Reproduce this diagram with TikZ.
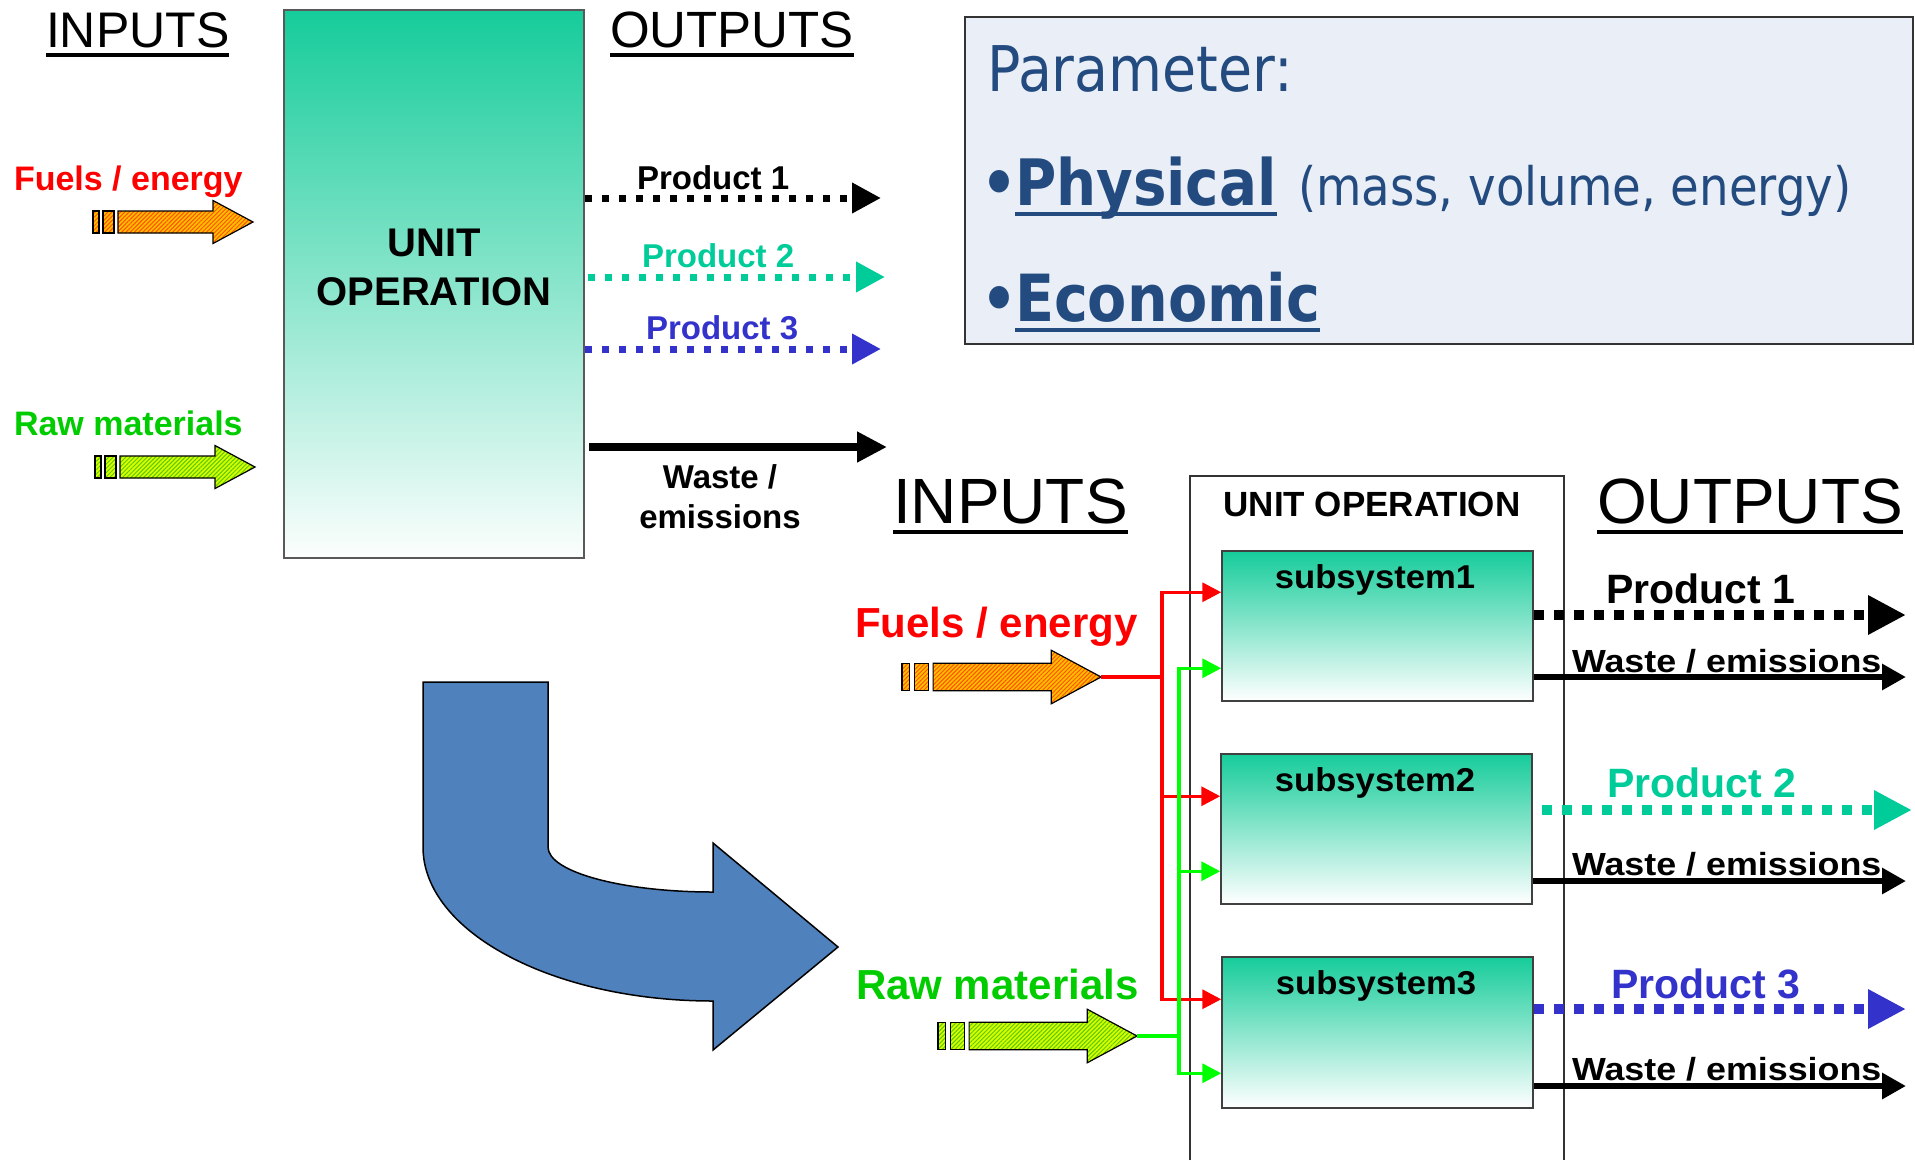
\documentclass[tikz,border=0pt]{standalone}
\usepackage{fontspec}
\setmainfont{Liberation Sans}
\newfontfamily\paramfont[FakeStretch=0.88]{DejaVu Sans}
\newfontfamily\widebold[FakeStretch=1.12]{Liberation Sans}
\newfontfamily\subfont[FakeStretch=1.05]{Liberation Sans}
\usetikzlibrary{arrows.meta,patterns.meta,calc}
\definecolor{tealtop}{RGB}{22,204,154}
\definecolor{tealmid}{RGB}{212,242,232}
\definecolor{tealmidb}{RGB}{222,245,237}
\definecolor{tealbot}{RGB}{252,254,253}
\definecolor{prodtwo}{RGB}{0,204,153}
\definecolor{prodthree}{RGB}{51,51,204}
\definecolor{rawgreen}{RGB}{0,204,0}
\definecolor{linegreen}{RGB}{0,255,0}
\definecolor{parambg}{RGB}{234,239,247}
\definecolor{paramtxt}{RGB}{35,75,127}
\definecolor{bluearrow}{RGB}{79,129,189}
\definecolor{fuelbase}{RGB}{255,190,0}
\definecolor{fuelhatch}{RGB}{255,80,0}
\definecolor{rawbase}{RGB}{215,255,0}
\definecolor{rawhatch}{RGB}{90,200,0}
\newcommand{\fsz}[1]{\fontsize{#1}{#1}\selectfont}
\begin{document}
\begin{tikzpicture}[x=1pt,y=-1pt,
  txt/.style={inner sep=0pt, outer sep=0pt},
  fuelfill/.style={preaction={fill=fuelbase}, preaction={pattern={Lines[angle=45,distance=3pt,line width=1pt]}, pattern color=fuelhatch}},
  rawfill/.style={preaction={fill=rawbase}, preaction={pattern={Lines[angle=45,distance=3pt,line width=1pt]}, pattern color=rawhatch}},
  pics/blkarrow/.style 2 args={code={
    \draw[#1, draw=black, line width=1.2pt] (0,{-11*#2}) rectangle ({6*#2},{11*#2});
    \draw[#1, draw=black, line width=1.2pt] ({10*#2},{-11*#2}) rectangle ({21*#2},{11*#2});
    \draw[#1, draw=black, line width=1.2pt] ({25*#2},{-11*#2}) -- ({120*#2},{-11*#2}) -- ({120*#2},{-21.5*#2}) -- ({160*#2},0) -- ({120*#2},{21.5*#2}) -- ({120*#2},{11*#2}) -- ({25*#2},{11*#2}) -- cycle;
    \coordinate (-tip) at ({160*#2},0);
  }},
  gradbox/.style={draw=black!75, line width=1.5pt, inner sep=0pt, top color=tealtop, middle color=tealmid, bottom color=tealbot},
  subbox/.style={gradbox, middle color=tealmidb, bottom color=white},
  dotsmall/.style={line width=7pt, dash pattern=on 7pt off 10pt, -{Triangle[length=29pt,width=29pt]}},
  dotbig/.style={line width=10pt, dash pattern=on 10pt off 10pt, -{Triangle[length=38pt,width=37pt]}},
  wastebig/.style={line width=6pt, -{Triangle[length=24pt,width=25pt]}},
  feed/.style={line width=3.5pt, -{Triangle[length=19pt,width=19pt]}},
]
\useasboundingbox (0,0) rectangle (1915,1160);

% ---------------- top-left: single unit operation ----------------
\node[txt, anchor=base west, font=\fsz{50}] (inA) at (46,47) {INPUTS};
\draw[line width=3.5pt] ([yshift=-8pt]inA.base west) -- ([yshift=-8pt]inA.base east);
\node[txt, anchor=base west, font=\fsz{51}] (outA) at (610,47) {OUTPUTS};
\draw[line width=3.5pt] ([yshift=-8pt]outA.base west) -- ([yshift=-8pt]outA.base east);

\node[gradbox, draw=black!65, minimum width=300pt, minimum height=548pt] (uo) at (434,284) {};
\node[txt, anchor=base, font=\fsz{40}\bfseries] (uoA) at (434,256) {UNIT};
\node[txt, anchor=base, font=\fsz{40}\bfseries] (uoB) at (434,305) {OPERATION};

\node[txt, anchor=base west, font=\fsz{34}\bfseries, text=red] (fuelA) at (14,190) {Fuels / energy};
\pic (fa) at (93,222) {blkarrow={fuelfill}{1}};
\node[txt, anchor=base west, font=\fsz{34}\bfseries, text=rawgreen] (rawA) at (14,435) {Raw materials};
\pic (ra) at (95,467) {blkarrow={rawfill}{1}};

\coordinate (t1) at (881,198);
\coordinate (t2) at (885,277);
\coordinate (t3) at (881,349);
\coordinate (tw) at (887,447);
\draw[dotsmall, black] (uo.east |- t1) -- (t1);
\draw[dotsmall, prodtwo] ([xshift=3pt]uo.east |- t2) -- (t2);
\draw[dotsmall, prodthree] (uo.east |- t3) -- (t3);
\draw[line width=8pt, -{Triangle[length=30pt,width=29pt]}] ([xshift=4pt]uo.east |- tw) -- (tw);
\node[txt, anchor=base west, font=\fsz{33}\bfseries] (pA1) at (637,189) {Product 1};
\node[txt, anchor=base west, font=\fsz{33}\bfseries, text=prodtwo] (pA2) at (642,267) {Product 2};
\node[txt, anchor=base west, font=\fsz{33}\bfseries, text=prodthree] (pA3) at (646,339) {Product 3};
\node[txt, anchor=base, font=\fsz{33}\bfseries] (wA1) at (720,488) {Waste /};
\node[txt, anchor=base, font=\fsz{33}\bfseries] (wA2) at (720,528) {emissions};

% ---------------- parameter box ----------------
\node[draw=black!80, line width=2pt, fill=parambg, minimum width=948pt, minimum height=327pt, inner sep=0pt] (param) at (1439,180.5) {};
\node[txt, anchor=base west, font=\paramfont\fsz{63}, text=paramtxt] (parT) at (987,91) {Parameter:};
\node[txt, anchor=base west, font=\paramfont\fsz{64}\bfseries, text=paramtxt] (phys) at (1015,205) {Physical};
\node[txt, anchor=base east, font=\paramfont\fsz{64}\bfseries, text=paramtxt] (bul1) at ([xshift=2pt]phys.base west) {•};
\draw[paramtxt, line width=4.5pt] ([yshift=-9pt]phys.base west) -- ([yshift=-9pt]phys.base east);
\node[txt, anchor=base west, font=\paramfont\fsz{53}, text=paramtxt] (physx) at (1298,205) {(mass, volume, energy)};
\node[txt, anchor=base west, font=\paramfont\fsz{65}\bfseries, text=paramtxt] (econ) at (1015,321) {Economic};
\node[txt, anchor=base east, font=\paramfont\fsz{64}\bfseries, text=paramtxt] (bul2) at ([xshift=2pt]econ.base west) {•};
\draw[paramtxt, line width=4.5pt] ([yshift=-9pt]econ.base west) -- ([yshift=-9pt]econ.base east);

% ---------------- big blue curved arrow ----------------
\draw[fill=bluearrow, draw=black, line width=1.5pt]
  (423,682) -- (548,682) -- (548,847)
  .. controls (548,872) and (622,892) .. (713,892)
  -- (713,843) -- (838,947) -- (713,1050) -- (713,1001)
  .. controls (553,1001) and (423,932) .. (423,847) -- cycle;

% ---------------- bottom-right: subsystems ----------------
\node[txt, anchor=base west, font=\fsz{64}] (inB) at (893,523) {INPUTS};
\draw[line width=4pt] ([yshift=-9pt]inB.base west) -- ([yshift=-9pt]inB.base east);
\node[txt, anchor=base west, font=\fsz{64}] (outB) at (1597,523) {OUTPUTS};
\draw[line width=4pt] ([yshift=-9pt]outB.base west) -- ([yshift=-9pt]outB.base east);

\draw[black!80, line width=1.5pt] (1190,1160) -- (1190,476) -- (1564,476) -- (1564,1160);
\node[txt, anchor=base, font=\fsz{35}\bfseries] (uoT) at (1372,516) {UNIT OPERATION};

\node[subbox, minimum width=311pt, minimum height=150pt] (s1) at (1377.5,626) {};
\node[subbox, minimum width=311pt, minimum height=150pt] (s2) at (1376.5,829) {};
\node[subbox, minimum width=311pt, minimum height=151pt] (s3) at (1377.5,1032.5) {};
\node[txt, anchor=base, font=\subfont\fsz{33}\bfseries] (s1t) at (1375,588) {subsystem1};
\node[txt, anchor=base, font=\subfont\fsz{33}\bfseries] (s2t) at (1375,791) {subsystem2};
\node[txt, anchor=base, font=\subfont\fsz{33}\bfseries] (s3t) at (1376,994) {subsystem3};

\node[txt, anchor=base west, font=\fsz{42}\bfseries, text=red] (fuelB) at (855,637) {Fuels / energy};
\pic (fb) at (902,677) {blkarrow={fuelfill}{1.244}};
\node[txt, anchor=base west, font=\fsz{42}\bfseries, text=rawgreen] (rawB) at (856,999) {Raw materials};
\pic (rb) at (938,1036) {blkarrow={rawfill}{1.244}};

% feed lines
\coordinate (redbus) at (1162,677);
\coordinate (greenbus) at (1179,1036);
\draw[feed, red] (fb-tip) -- (redbus) |- ([yshift=-42pt]s1.north west);
\draw[feed, red] (redbus) |- ([yshift=-43pt]s2.north west);
\draw[feed, red] (redbus) |- ([yshift=-43pt]s3.north west);
\draw[feed, linegreen] (rb-tip) -- (greenbus) |- ([yshift=-118pt]s1.north west);
\draw[feed, linegreen] (greenbus) |- ([yshift=-118pt]s2.north west);
\draw[feed, linegreen] (greenbus) |- ([yshift=-117pt]s3.north west);

% outputs
\coordinate (p1e) at (1906,615);
\coordinate (w1e) at (1906,677);
\coordinate (p2e) at (1912,810);
\coordinate (w2e) at (1906,881);
\coordinate (p3e) at (1906,1009);
\coordinate (w3e) at (1906,1086);
\draw[dotbig, black] (s1.east |- p1e) -- (p1e);
\draw[wastebig, black] (s1.east |- w1e) -- (w1e);
\draw[dotbig, prodtwo] ([xshift=9pt]s2.east |- p2e) -- (p2e);
\draw[wastebig, black] (s2.east |- w2e) -- (w2e);
\draw[dotbig, prodthree] (s3.east |- p3e) -- (p3e);
\draw[wastebig, black] (s3.east |- w3e) -- (w3e);

\node[txt, anchor=base west, font=\fsz{41}\bfseries] (pB1) at (1606,603) {Product 1};
\node[txt, anchor=base west, font=\fsz{41}\bfseries, text=prodtwo] (pB2) at (1607,797) {Product 2};
\node[txt, anchor=base west, font=\fsz{41}\bfseries, text=prodthree] (pB3) at (1611,998) {Product 3};
\node[txt, anchor=base west, font=\widebold\fsz{32}\bfseries] (wB1) at (1572,672) {Waste / emissions};
\node[txt, anchor=base west, font=\widebold\fsz{32}\bfseries] (wB2) at (1572,875) {Waste / emissions};
\node[txt, anchor=base west, font=\widebold\fsz{32}\bfseries] (wB3) at (1572,1080) {Waste / emissions};
\end{tikzpicture}
\end{document}
